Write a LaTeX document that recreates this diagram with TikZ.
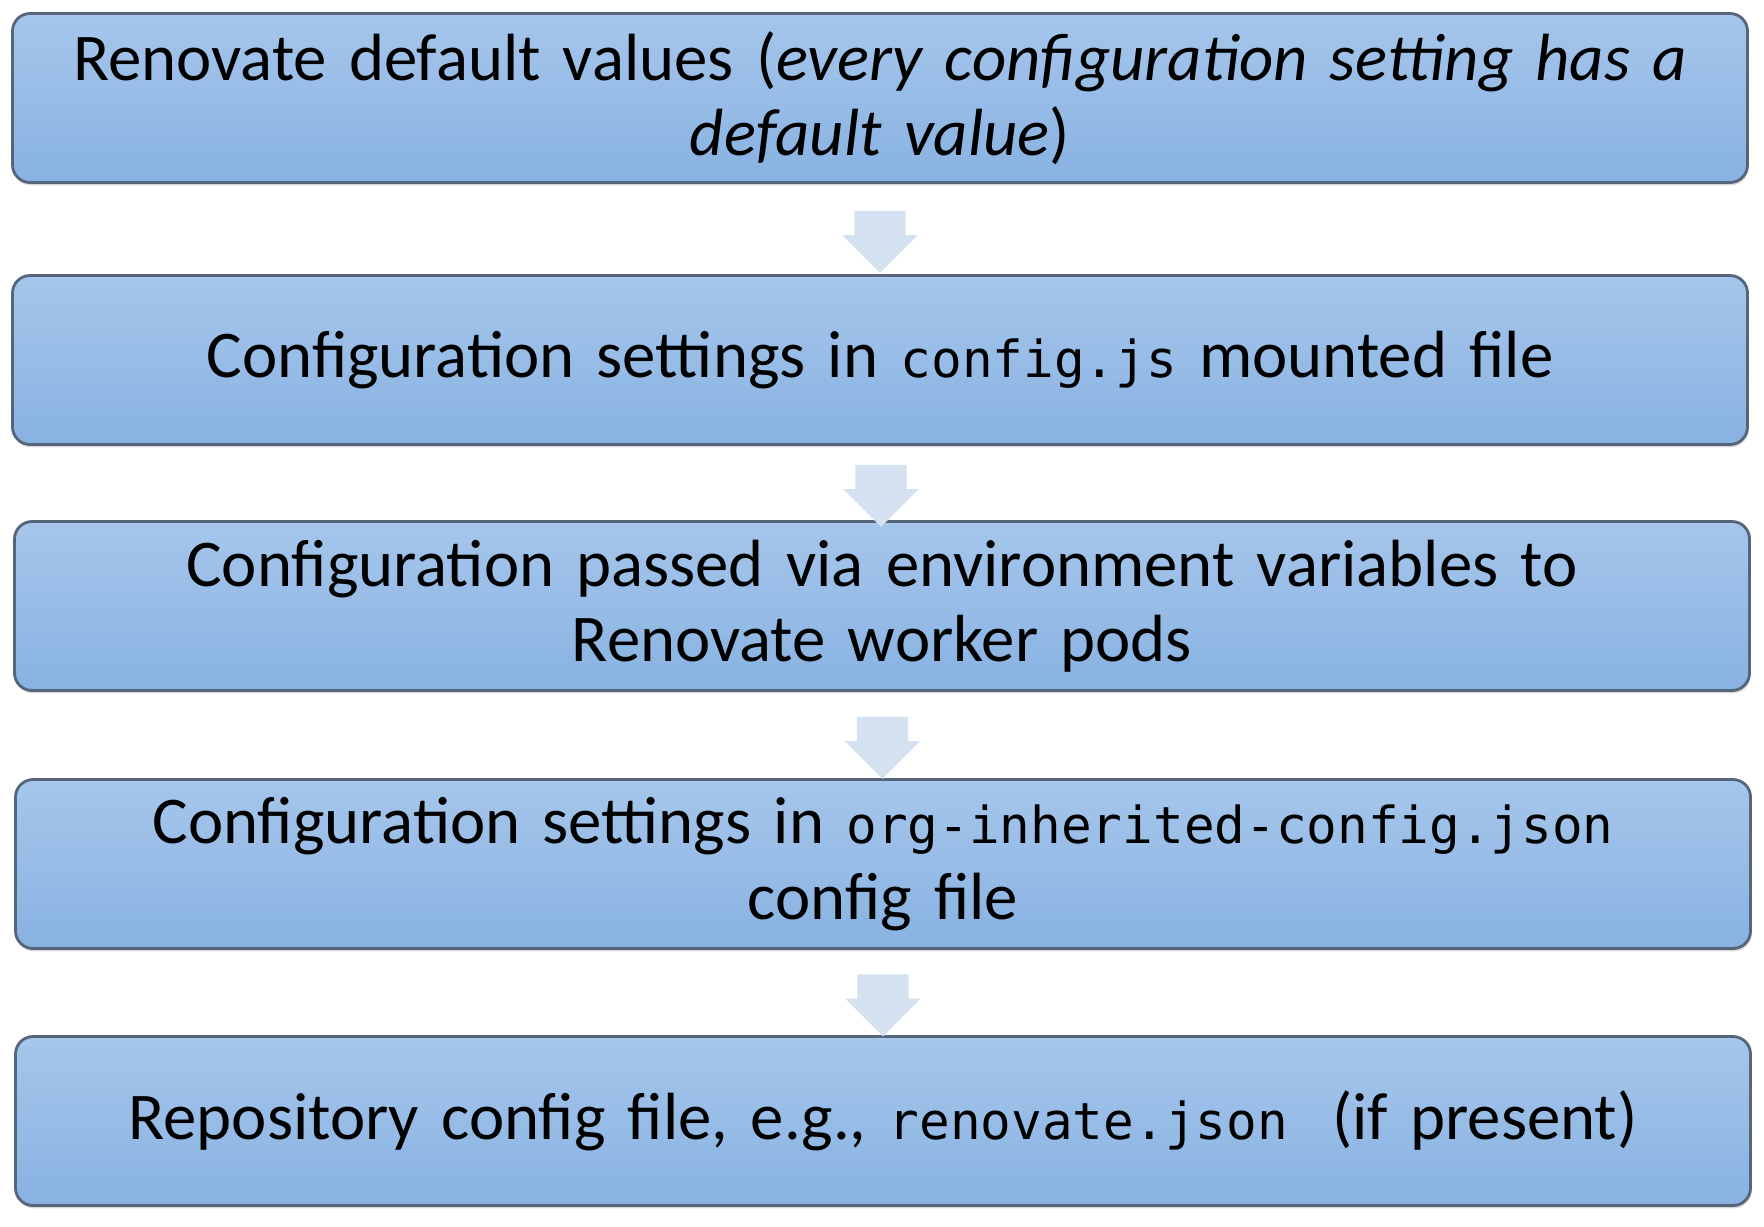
\documentclass[tikz,border=0pt]{standalone}
\usepackage{fontspec}
\setmainfont[WordSpace=0.75]{Carlito}
\setmonofont{DejaVu Sans Mono}
\usetikzlibrary{positioning, calc, shapes.arrows, shadows}

\definecolor{boxtop}{HTML}{A6C6EB}
\definecolor{boxbot}{HTML}{88B2E2}
\definecolor{boxline}{HTML}{55657A}
\definecolor{arrowfill}{HTML}{D3E1F1}

\newcommand{\code}[1]{{\fontsize{14.5}{17}\selectfont\ttfamily #1}}

\tikzset{
  layer/.style={draw=boxline, line width=0.8pt, rounded corners=5pt,
    top color=boxtop, bottom color=boxbot,
    minimum width=17.35cm, minimum height=1.69cm, text width=17.1cm,
    align=center, font=\fontsize{19}{21.5}\selectfont,
    drop shadow={shadow xshift=0.3pt, shadow yshift=-0.8pt, opacity=0.3}},
  down/.style={single arrow, fill=arrowfill, draw=none, rotate=-90,
    minimum height=0.62cm, minimum width=0.74cm, single arrow head extend=0.12cm,
    inner xsep=0pt, inner ysep=0.25cm}
}

\begin{document}
\begin{tikzpicture}
  \useasboundingbox (0,0) rectangle (17.64,-12.26);
  % the five layers
  \node[layer] (defaults) at (8.80,-0.98)
    {Renovate default values (\textit{every configuration setting has a\\default value})};
  \node[layer] (configjs) at (8.80,-3.60)
    {Configuration settings in \code{config.js} mounted file};
  \node[layer] (envvars) at (8.82,-6.06)
    {Configuration passed via environment variables to\\Renovate worker pods};
  \node[layer] (orgcfg) at (8.83,-8.64)
    {Configuration settings in \code{org-inherited-config.json}\\config file};
  \node[layer] (repocfg) at (8.83,-11.21)
    {Repository config file, e.g., \code{renovate.json}\ \ (if present)};
  % arrows between them
  \foreach \a/\b in {defaults/configjs, configjs/envvars, envvars/orgcfg, orgcfg/repocfg}
    \node[down] at ($(\a.south)!0.5!(\b.north)$) {};
\end{tikzpicture}
\end{document}
